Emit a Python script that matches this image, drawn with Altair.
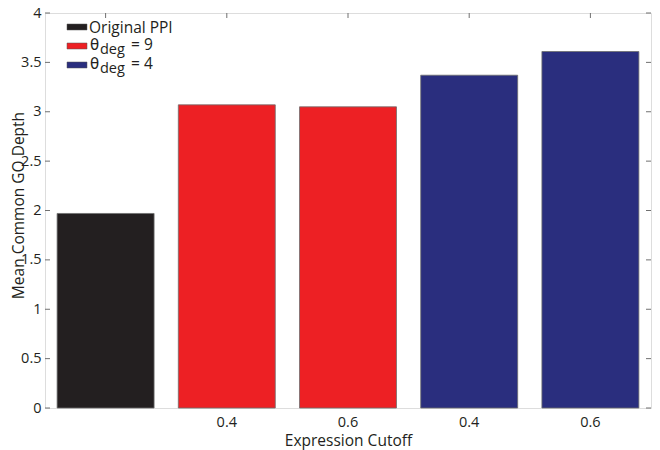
import json
import altair as alt
import pandas as pd

# ---- data ----
positions = [0, 1, 2, 3, 4]
tick_labels = ["", "0.4", "0.6", "0.4", "0.6"]
depths = [1.97, 3.07, 3.05, 3.37, 3.61]
groups = ["Original PPI", "θdeg = 9", "θdeg = 9", "θdeg = 4", "θdeg = 4"]
group_colors = {"Original PPI": "#231f20", "θdeg = 9": "#ed2024", "θdeg = 4": "#2a2e7e"}
y_ticks = [0, 0.5, 1, 1.5, 2, 2.5, 3, 3.5, 4]

legend_main = ["Original PPI", "θ", "θ"]
legend_sub = ["", "deg", "deg"]
legend_tail = ["", "= 9", "= 4"]
legend_colors = ["#231f20", "#ed2024", "#2a2e7e"]

FONT = "Open Sans"
TXT = "#231f20"
W, H = 606, 395

df = pd.DataFrame({"pos": positions, "depth": depths, "group": groups})
df["color"] = df["group"].map(group_colors)
ticks_df = pd.DataFrame({"v": y_ticks})

label_expr = json.dumps(tick_labels) + "[datum.value]"

x_enc = alt.X(
    "pos:O",
    scale=alt.Scale(paddingInner=0.2, paddingOuter=0.1),
    axis=alt.Axis(
        title="Expression Cutoff", labelExpr=label_expr, labelAngle=0,
        tickSize=0, domain=False, labelPadding=7,
        labelFont=FONT, labelFontSize=14.5, labelColor=TXT,
        titleFont=FONT, titleFontSize=15.5, titleFontWeight="normal", titleColor=TXT,
        titleY=37, titleBaseline="alphabetic",
    ),
)
y_scale = alt.Scale(domain=[0, 4], nice=False)

bars = alt.Chart(df).mark_bar(stroke="#6d6d6d", strokeWidth=0.8).encode(
    x=x_enc,
    y=alt.Y(
        "depth:Q", scale=y_scale,
        axis=alt.Axis(
            title="Mean Common GO Depth", values=y_ticks, format="~g",
            tickSize=0, domain=False, grid=False, labelPadding=4,
            labelFont=FONT, labelFontSize=14.5, labelColor=TXT,
            titleFont=FONT, titleFontSize=15.5, titleFontWeight="normal", titleColor=TXT,
            titleX=-27, titleY=192, titleAngle=-90, titleAlign="center", titleBaseline="middle",
        ),
    ),
    color=alt.Color("color:N", scale=None),
)

tick_col = "#707070"
left_ticks = alt.Chart(ticks_df).mark_rule(color=tick_col, strokeWidth=1).encode(
    y=alt.Y("v:Q", scale=y_scale), x=alt.value(0), x2=alt.value(5)
)
right_ticks = alt.Chart(ticks_df).mark_rule(color=tick_col, strokeWidth=1).encode(
    y=alt.Y("v:Q", scale=y_scale), x=alt.value(W - 5), x2=alt.value(W)
)
top_ticks = alt.Chart(df).mark_rule(color=tick_col, strokeWidth=1).encode(
    x=alt.X("pos:O"), y=alt.value(0), y2=alt.value(5)
)

# ---- legend (manual, to allow subscript) ----
leg_df = pd.DataFrame({"k": [0]})
legend_layers = []
row_y = [14, 33, 52]
for i in range(3):
    cy = row_y[i]
    legend_layers.append(
        alt.Chart(leg_df).mark_rect(color=legend_colors[i], stroke="#555", strokeWidth=0.5).encode(
            x=alt.value(22), x2=alt.value(42), y=alt.value(cy - 3), y2=alt.value(cy + 3)
        )
    )
    if i == 0:
        legend_layers.append(
            alt.Chart(leg_df).mark_text(
                text=legend_main[i], font=FONT, fontSize=15.5, color=TXT,
                align="left", baseline="alphabetic",
            ).encode(x=alt.value(44), y=alt.value(cy + 6))
        )
    else:
        legend_layers.append(
            alt.Chart(leg_df).mark_text(
                text=legend_main[i], font="DejaVu Sans", fontSize=15, color=TXT,
                align="left", baseline="alphabetic",
            ).encode(x=alt.value(45), y=alt.value(cy + 4))
        )
        legend_layers.append(
            alt.Chart(leg_df).mark_text(
                text=legend_sub[i], font=FONT, fontSize=14.5, color=TXT,
                align="left", baseline="alphabetic",
            ).encode(x=alt.value(55), y=alt.value(cy + 8))
        )
        legend_layers.append(
            alt.Chart(leg_df).mark_text(
                text=legend_tail[i], font=FONT, fontSize=15.5, color=TXT,
                align="left", baseline="alphabetic",
            ).encode(x=alt.value(86), y=alt.value(cy + 4))
        )

chart = alt.layer(bars, left_ticks, right_ticks, top_ticks, *legend_layers).properties(
    width=W, height=H,
    autosize=alt.AutoSizeParams(type="none"),
    padding={"left": 37, "top": 5, "right": 1, "bottom": 42},
).configure_view(stroke="#5a5a5a", strokeWidth=1).configure(background="white")

chart.save("out.html", embed_options={"renderer": "svg", "actions": False})
